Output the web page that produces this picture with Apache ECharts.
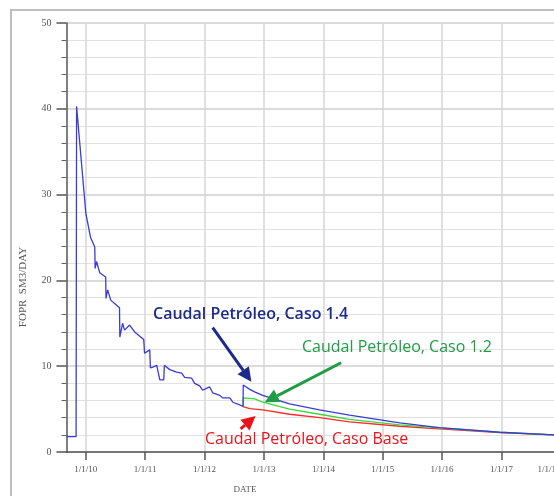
<!DOCTYPE html>
<html>
<head>
<meta charset="utf-8">
<script src="https://cdn.jsdelivr.net/npm/echarts@6/dist/echarts.min.js"></script>
<style>
  html, body { margin: 0; padding: 0; background: #fff; }
  #chart { width: 554px; height: 496px; }
</style>
</head>
<body>
<div id="chart"></div>
<script>
// Field oil production rate (FOPR), history followed by three forecast cases
const histDates = [
  '2009-09-04', '2009-11-02', '2009-11-05', '2010-01-01', '2010-01-30', '2010-02-25',
  '2010-02-27', '2010-03-08', '2010-03-27', '2010-05-03', '2010-05-05', '2010-05-15',
  '2010-05-27', '2010-06-03', '2010-07-09', '2010-07-27', '2010-07-29', '2010-08-15',
  '2010-08-27', '2010-09-27', '2010-10-28', '2010-12-23', '2010-12-28', '2011-01-29',
  '2011-02-02', '2011-02-17', '2011-03-13', '2011-04-01', '2011-04-25', '2011-04-29',
  '2011-06-01', '2011-07-13', '2011-08-13', '2011-09-01', '2011-10-14', '2011-11-01',
  '2011-12-02', '2011-12-20', '2012-02-01', '2012-02-20', '2012-04-04', '2012-04-22',
  '2012-06-04', '2012-06-23', '2012-08-04', '2012-08-25'
];
const histValues = [
  1.8, 1.8, 40.3, 27.8, 25.0, 23.9,
  21.4, 22.2, 20.9, 20.4, 17.9, 18.9,
  18.9, 17.7, 17.1, 16.8, 13.4, 15.0,
  14.2, 14.8, 14.0, 13.1, 11.5, 11.9,
  9.8, 9.9, 10.1, 8.4, 8.4, 10.1,
  9.6, 9.3, 9.2, 8.7, 8.6, 8.0,
  7.7, 7.2, 7.6, 6.9, 6.6, 6.3,
  6.3, 5.8, 5.5, 5.3
];

const forecastDates = [
  '2012-08-26', '2012-10-05', '2012-11-04', '2012-12-24', '2013-06-07', '2013-12-08',
  '2014-06-11', '2015-04-15', '2015-12-16', '2016-12-20', '2017-11-16', '2018-05-27'
];
const caso14 = [7.8, 7.3, 7.0, 6.6, 5.6, 4.9, 4.3, 3.4, 2.85, 2.3, 2.0, 1.85];
const caso12 = [6.3, 6.25, 6.2, 5.8, 5.0, 4.4, 3.8, 3.15, 2.8, 2.3, 2.0, 1.85];
const casoBase = [5.1, 5.05, 5.0, 4.9, 4.4, 4.0, 3.5, 3.0, 2.7, 2.25, 2.0, 1.85];

const yearTicks = ['2010-01-01', '2011-01-01', '2012-01-01', '2013-01-01', '2014-01-01',
  '2015-01-01', '2016-01-01', '2017-01-01', '2018-01-01'];
const yearLabels = ['1/1/10', '1/1/11', '1/1/12', '1/1/13', '1/1/14',
  '1/1/15', '1/1/16', '1/1/17', '1/1/18'];

const yTitle = 'FOPR  SM3/DAY';
const xTitle = 'DATE';
const labelCaso14 = 'Caudal Petróleo, Caso 1.4';
const labelCaso12 = 'Caudal Petróleo, Caso 1.2';
const labelBase = 'Caudal Petróleo, Caso Base';

const ts = d => new Date(d + 'T00:00:00Z').getTime();
const zip = (dates, vals) => dates.map((d, i) => [ts(d), vals[i]]);

const histPts = zip(histDates, histValues);
const lastHist = histPts[histPts.length - 1];
const blueData = histPts.concat(zip(forecastDates, caso14));
const greenData = [lastHist].concat(zip(forecastDates, caso12));
const redData = [lastHist].concat(zip(forecastDates, casoBase));

const tickTs = yearTicks.map(ts);
const labelFor = {};
tickTs.forEach((t, i) => { labelFor[t] = yearLabels[i]; });
const lastTick = tickTs[tickTs.length - 1];

const serif = '"Liberation Serif", "DejaVu Serif", serif';
const annoFont = '"Open Sans", "Noto Sans", sans-serif';

const chart = echarts.init(document.getElementById('chart'));

chart.setOption({
  animation: false,
  backgroundColor: '#fff',
  // the plot runs past the right edge of the canvas
  grid: { left: 66.5, top: 23, width: 519, height: 429, outerBoundsMode: 'none', containLabel: false },
  xAxis: {
    // timestamps on a linear axis; ticks placed on Jan 1 of each year
    type: 'value',
    min: ts('2009-09-04'),
    max: ts('2018-06-01'),
    axisLine: { show: true, lineStyle: { color: '#555', width: 1.5 } },
    axisTick: { show: true, customValues: tickTs, length: 8, lineStyle: { color: '#555', width: 1.5 } },
    axisLabel: {
      customValues: tickTs,
      // the last label is nudged left so it stays partly inside the frame
      formatter: v => v === lastTick ? '{last|' + labelFor[v] + '}' : (labelFor[v] || ''),
      rich: { last: { padding: [0, 24, 0, 0], fontFamily: serif, fontSize: 9, color: '#555' } },
      margin: 13,
      color: '#555',
      fontFamily: serif,
      fontSize: 9
    },
    splitLine: { show: true, lineStyle: { color: '#d6d6d6', width: 1.5 } }
  },
  yAxis: {
    type: 'value',
    min: 0,
    max: 50,
    interval: 10,
    axisLine: { show: true, lineStyle: { color: '#555', width: 1.5 } },
    axisTick: { show: true, length: 10, lineStyle: { color: '#555', width: 1.5 } },
    minorTick: { show: true, splitNumber: 5, length: 5, lineStyle: { color: '#666', width: 1 } },
    axisLabel: { margin: 15, color: '#555', fontFamily: serif, fontSize: 10 },
    splitLine: { show: true, lineStyle: { color: '#cfcfcf', width: 1.5 } },
    minorSplitLine: { show: true, lineStyle: { color: '#e2e2e2', width: 1.2 } }
  },
  series: [
    {
      name: labelBase, type: 'line', data: redData, showSymbol: false,
      lineStyle: { color: '#ff2a2a', width: 1.3 }, z: 3
    },
    {
      name: labelCaso12, type: 'line', data: greenData, showSymbol: false,
      lineStyle: { color: '#3ad83a', width: 1.3 }, z: 4
    },
    {
      name: labelCaso14, type: 'line', data: blueData, showSymbol: false,
      lineStyle: { color: '#3b3bd6', width: 1.3 }, z: 5
    }
  ]
});

// Arrow annotations, anchored in data space
const arrows = [
  { from: ['2012-02-20', 14.5], to: ['2012-10-15', 8.2], color: '#1c2a8c' },
  { from: ['2014-04-20', 10.4], to: ['2013-01-05', 5.8], color: '#1f9d45' },
  { from: ['2012-08-10', 2.7], to: ['2012-11-10', 4.2], color: '#e8141c' }
];

function arrowShapes(a) {
  const p0 = chart.convertToPixel({ gridIndex: 0 }, [ts(a.from[0]), a.from[1]]);
  const p1 = chart.convertToPixel({ gridIndex: 0 }, [ts(a.to[0]), a.to[1]]);
  const dx = p1[0] - p0[0], dy = p1[1] - p0[1];
  const len = Math.hypot(dx, dy);
  const ux = dx / len, uy = dy / len;
  const headLen = 14, headHalf = 7;
  const bx = p1[0] - ux * headLen, by = p1[1] - uy * headLen;
  return [
    {
      type: 'line', z: 20,
      shape: { x1: p0[0], y1: p0[1], x2: bx, y2: by },
      style: { stroke: a.color, lineWidth: 3 }
    },
    {
      type: 'polygon', z: 20,
      shape: { points: [[p1[0], p1[1]], [bx - uy * headHalf, by + ux * headHalf], [bx + uy * headHalf, by - ux * headHalf]] },
      style: { fill: a.color }
    }
  ];
}

let graphics = [
  {
    type: 'rect', z: 0, silent: true,
    shape: { x: 11, y: 10, width: 700, height: 600 },
    style: { fill: 'none', stroke: '#bdbdbd', lineWidth: 2 }
  },
  {
    type: 'text', z: 10, x: 23, y: 287, rotation: Math.PI / 2,
    style: { text: yTitle, fill: '#555', font: '11px ' + serif, textAlign: 'center', textVerticalAlign: 'middle' }
  },
  {
    type: 'text', z: 10, x: 245, y: 490,
    style: { text: xTitle, fill: '#555', font: '9px ' + serif, textAlign: 'center', textVerticalAlign: 'middle' }
  },
  {
    type: 'text', z: 21, x: 153, y: 314,
    style: { text: labelCaso14, fill: '#1c2a8c', font: '600 16px ' + annoFont, textVerticalAlign: 'middle' }
  },
  {
    type: 'text', z: 21, x: 302, y: 347,
    style: { text: labelCaso12, fill: '#1f9d45', font: '16px ' + annoFont, textVerticalAlign: 'middle' }
  },
  {
    type: 'text', z: 21, x: 205, y: 439,
    style: { text: labelBase, fill: '#e8141c', font: '16px ' + annoFont, textVerticalAlign: 'middle' }
  }
];
arrows.forEach(a => { graphics = graphics.concat(arrowShapes(a)); });
chart.setOption({ graphic: graphics });
</script>
</body>
</html>
